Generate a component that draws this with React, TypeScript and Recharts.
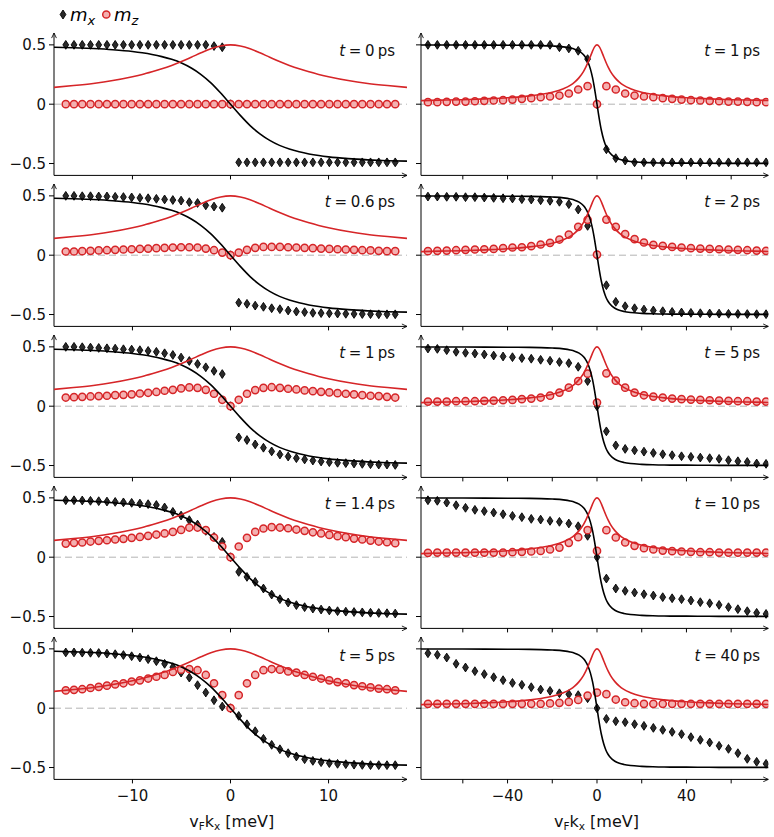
import React from "react";
import { ComposedChart, Line, Scatter, XAxis, YAxis, ReferenceLine } from "recharts";

const FONT = "'DejaVu Sans', sans-serif";
const RED = "#d62528";
const PINK = "#f4b0b0";

// k grid of the markers (meV)
const kLeft = [
  -16.8, -15.96, -15.12, -14.28, -13.44, -12.6, -11.76, -10.92, -10.08, -9.24, -8.4, -7.56, -6.72, -5.88,
  -5.04, -4.2, -3.36, -2.52, -1.68, -0.84, 0, 0.84, 1.68, 2.52, 3.36, 4.2, 5.04, 5.88, 6.72, 7.56, 8.4,
  9.24, 10.08, 10.92, 11.76, 12.6, 13.44, 14.28, 15.12, 15.96, 16.8,
];
const kRight = [
  -75.6, -71.4, -67.2, -63, -58.8, -54.6, -50.4, -46.2, -42, -37.8, -33.6, -29.4, -25.2, -21, -16.8, -12.6,
  -8.4, -4.2, 0, 4.2, 8.4, 12.6, 16.8, 21, 25.2, 29.4, 33.6, 37.8, 42, 46.2, 50.4, 54.6, 58.8, 63, 67.2,
  71.4, 75.6,
];

// equilibrium curves
const curveXLeft = [-18, -16, -14, -12, -10, -9, -8, -7, -6, -5, -4, -3, -2, -1, 0, 1, 2, 3, 4, 5, 6, 7, 8, 9, 10, 12, 14, 16, 18];
const curveMxLeft = [
  0.48, 0.476, 0.469, 0.459, 0.444, 0.433, 0.419, 0.401, 0.378, 0.347, 0.305, 0.25, 0.18, 0.094, 0, -0.094,
  -0.18, -0.25, -0.305, -0.347, -0.378, -0.401, -0.419, -0.433, -0.444, -0.459, -0.469, -0.476, -0.48,
];
const curveMzLeft = [
  0.142, 0.157, 0.175, 0.199, 0.231, 0.25, 0.273, 0.298, 0.327, 0.36, 0.396, 0.433, 0.467, 0.491, 0.5, 0.491,
  0.467, 0.433, 0.396, 0.36, 0.327, 0.298, 0.273, 0.25, 0.231, 0.199, 0.175, 0.157, 0.142,
];
const curveXRight = [
  -79, -70, -60, -50, -40, -30, -25, -20, -15, -12, -10, -8, -6, -5, -4, -3, -2, -1, 0, 1, 2, 3, 4, 5, 6, 8,
  10, 12, 15, 20, 25, 30, 40, 50, 60, 70, 79,
];
const curveMxRight = [
  0.499, 0.499, 0.499, 0.498, 0.497, 0.496, 0.494, 0.49, 0.483, 0.474, 0.464, 0.447, 0.416, 0.39, 0.354, 0.3,
  0.224, 0.121, 0, -0.121, -0.224, -0.3, -0.354, -0.39, -0.416, -0.447, -0.464, -0.474, -0.483, -0.49, -0.494,
  -0.496, -0.497, -0.498, -0.499, -0.499, -0.499,
];
const curveMzRight = [
  0.03, 0.034, 0.038, 0.045, 0.054, 0.07, 0.082, 0.1, 0.13, 0.158, 0.186, 0.224, 0.277, 0.312, 0.354, 0.4,
  0.447, 0.485, 0.5, 0.485, 0.447, 0.4, 0.354, 0.312, 0.277, 0.224, 0.186, 0.158, 0.13, 0.1, 0.082, 0.07,
  0.054, 0.045, 0.038, 0.034, 0.03,
];

// left column, t = 0, 0.6, 1, 1.4, 5 ps
const mxL0 = [
  0.5, 0.5, 0.5, 0.5, 0.5, 0.5, 0.5, 0.5, 0.5, 0.5, 0.5, 0.5, 0.5, 0.5, 0.5, 0.5, 0.5, 0.5, 0.49, 0.48, 0,
  -0.49, -0.49, -0.49, -0.49, -0.49, -0.49, -0.49, -0.49, -0.49, -0.49, -0.49, -0.49, -0.49, -0.49, -0.49,
  -0.49, -0.49, -0.49, -0.49, -0.49,
];
const mzL0 = [
  0, 0, 0, 0, 0, 0, 0, 0, 0, 0, 0, 0, 0, 0, 0, 0, 0, 0, 0, 0, 0, 0, 0, 0, 0, 0, 0, 0, 0, 0, 0, 0, 0, 0, 0, 0,
  0, 0, 0, 0, 0,
];
const mxL06 = [
  0.5, 0.5, 0.497, 0.497, 0.495, 0.495, 0.492, 0.49, 0.487, 0.483, 0.48, 0.475, 0.47, 0.465, 0.46, 0.447, 0.44,
  0.42, 0.41, 0.4, 0, -0.4, -0.41, -0.425, -0.435, -0.447, -0.455, -0.466, -0.475, -0.48, -0.486, -0.488, -0.49,
  -0.492, -0.494, -0.495, -0.496, -0.497, -0.498, -0.498, -0.498,
];
const mzL06 = [
  0.031, 0.031, 0.034, 0.037, 0.04, 0.042, 0.045, 0.048, 0.05, 0.053, 0.056, 0.059, 0.062, 0.065, 0.067, 0.067,
  0.065, 0.056, 0.042, 0.022, 0, 0.022, 0.045, 0.062, 0.07, 0.07, 0.07, 0.067, 0.065, 0.062, 0.059, 0.056, 0.053,
  0.05, 0.048, 0.045, 0.042, 0.04, 0.037, 0.034, 0.034,
];
const mxL1 = [
  0.5, 0.5, 0.497, 0.494, 0.491, 0.488, 0.485, 0.48, 0.477, 0.472, 0.466, 0.458, 0.446, 0.432, 0.41, 0.381,
  0.356, 0.328, 0.297, 0.271, 0, -0.263, -0.285, -0.322, -0.35, -0.381, -0.407, -0.424, -0.438, -0.449, -0.458,
  -0.466, -0.472, -0.477, -0.48, -0.483, -0.486, -0.489, -0.492, -0.492, -0.495,
];
const mzL1 = [
  0.073, 0.076, 0.079, 0.082, 0.085, 0.088, 0.093, 0.096, 0.1, 0.107, 0.113, 0.12, 0.13, 0.138, 0.15, 0.158,
  0.155, 0.138, 0.105, 0.054, 0, 0.054, 0.105, 0.136, 0.155, 0.16, 0.155, 0.147, 0.141, 0.133, 0.127, 0.121,
  0.116, 0.11, 0.105, 0.099, 0.093, 0.088, 0.085, 0.079, 0.073,
];
const mxL14 = [
  0.48, 0.48, 0.478, 0.475, 0.472, 0.469, 0.466, 0.462, 0.458, 0.452, 0.447, 0.44, 0.419, 0.382, 0.351, 0.312,
  0.275, 0.222, 0.171, 0.129, 0, -0.124, -0.166, -0.208, -0.264, -0.315, -0.354, -0.382, -0.404, -0.421, -0.433,
  -0.441, -0.449, -0.455, -0.459, -0.462, -0.465, -0.468, -0.47, -0.472, -0.475,
];
const mzL14 = [
  0.115, 0.121, 0.124, 0.132, 0.138, 0.143, 0.149, 0.155, 0.163, 0.171, 0.18, 0.191, 0.2, 0.213, 0.23, 0.25,
  0.25, 0.228, 0.166, 0.09, 0, 0.09, 0.163, 0.213, 0.242, 0.253, 0.25, 0.244, 0.233, 0.222, 0.21, 0.2, 0.188,
  0.177, 0.169, 0.157, 0.149, 0.14, 0.132, 0.126, 0.118,
];
const mxL5 = [
  0.47, 0.47, 0.468, 0.467, 0.465, 0.46, 0.455, 0.448, 0.438, 0.427, 0.413, 0.396, 0.374, 0.346, 0.3, 0.258,
  0.194, 0.132, 0.067, 0.014, 0, -0.065, -0.135, -0.194, -0.258, -0.309, -0.346, -0.379, -0.407, -0.43, -0.444,
  -0.455, -0.463, -0.469, -0.472, -0.476, -0.478, -0.48, -0.48, -0.48, -0.48,
];
const mzL5 = [
  0.15, 0.155, 0.16, 0.17, 0.18, 0.19, 0.2, 0.21, 0.225, 0.235, 0.25, 0.265, 0.28, 0.305, 0.325, 0.33, 0.32,
  0.28, 0.21, 0.11, 0, 0.11, 0.21, 0.28, 0.32, 0.33, 0.325, 0.31, 0.3, 0.28, 0.265, 0.25, 0.235, 0.22, 0.21,
  0.195, 0.185, 0.175, 0.165, 0.16, 0.15,
];

// right column, t = 1, 2, 5, 10, 40 ps
const mxR1 = [
  0.5, 0.5, 0.5, 0.5, 0.5, 0.5, 0.5, 0.5, 0.5, 0.5, 0.5, 0.5, 0.5, 0.5, 0.48, 0.47, 0.45, 0.38, 0, -0.38, -0.455,
  -0.475, -0.49, -0.49, -0.49, -0.49, -0.49, -0.49, -0.49, -0.49, -0.49, -0.49, -0.49, -0.49, -0.49, -0.49, -0.49,
];
const mzR1 = [
  0.017, 0.017, 0.02, 0.022, 0.022, 0.025, 0.028, 0.031, 0.034, 0.039, 0.045, 0.051, 0.059, 0.065, 0.073, 0.09,
  0.124, 0.152, 0, 0.152, 0.124, 0.09, 0.073, 0.065, 0.059, 0.051, 0.045, 0.039, 0.034, 0.031, 0.028, 0.025,
  0.022, 0.022, 0.02, 0.017, 0.017,
];
const mxR2 = [
  0.494, 0.494, 0.492, 0.492, 0.489, 0.489, 0.486, 0.483, 0.48, 0.478, 0.472, 0.469, 0.463, 0.458, 0.45, 0.43,
  0.385, 0.247, 0, -0.253, -0.393, -0.43, -0.447, -0.458, -0.466, -0.472, -0.478, -0.483, -0.486, -0.489, -0.491,
  -0.492, -0.494, -0.495, -0.496, -0.497, -0.497,
];
const mzR2 = [
  0.034, 0.037, 0.039, 0.042, 0.045, 0.048, 0.05, 0.053, 0.059, 0.065, 0.067, 0.076, 0.09, 0.104, 0.132, 0.174,
  0.239, 0.298, 0.005, 0.3, 0.239, 0.177, 0.135, 0.107, 0.087, 0.079, 0.07, 0.065, 0.059, 0.056, 0.053, 0.05,
  0.048, 0.045, 0.042, 0.039, 0.037,
];
const mxR5 = [
  0.486, 0.483, 0.472, 0.458, 0.45, 0.444, 0.436, 0.427, 0.419, 0.413, 0.405, 0.4, 0.391, 0.383, 0.372, 0.363,
  0.332, 0.212, 0, -0.212, -0.33, -0.36, -0.372, -0.383, -0.394, -0.405, -0.413, -0.422, -0.427, -0.433, -0.438,
  -0.444, -0.455, -0.464, -0.47, -0.483, -0.486,
];
const mzR5 = [
  0.039, 0.039, 0.039, 0.042, 0.042, 0.042, 0.045, 0.047, 0.05, 0.053, 0.059, 0.064, 0.073, 0.089, 0.115, 0.156,
  0.212, 0.274, 0.031, 0.277, 0.215, 0.156, 0.115, 0.092, 0.081, 0.073, 0.064, 0.059, 0.056, 0.053, 0.05, 0.047,
  0.045, 0.042, 0.042, 0.039, 0.039,
];
const mxR10 = [
  0.48, 0.475, 0.46, 0.438, 0.416, 0.399, 0.388, 0.376, 0.362, 0.348, 0.337, 0.323, 0.317, 0.306, 0.298, 0.284,
  0.261, 0.18, 0, -0.18, -0.264, -0.284, -0.298, -0.312, -0.323, -0.337, -0.346, -0.354, -0.365, -0.379, -0.388,
  -0.402, -0.421, -0.438, -0.455, -0.469, -0.478,
];
const mzR10 = [
  0.037, 0.039, 0.039, 0.039, 0.039, 0.039, 0.039, 0.039, 0.039, 0.042, 0.045, 0.048, 0.053, 0.065, 0.081, 0.121,
  0.169, 0.228, 0.053, 0.228, 0.166, 0.124, 0.096, 0.076, 0.065, 0.056, 0.051, 0.048, 0.045, 0.042, 0.042, 0.039,
  0.039, 0.039, 0.039, 0.039, 0.039,
];
const mxR40 = [
  0.463, 0.45, 0.427, 0.374, 0.343, 0.312, 0.287, 0.261, 0.236, 0.213, 0.197, 0.177, 0.157, 0.146, 0.126, 0.118,
  0.11, 0.084, 0, -0.09, -0.11, -0.118, -0.135, -0.149, -0.166, -0.183, -0.2, -0.219, -0.244, -0.267, -0.289,
  -0.317, -0.343, -0.379, -0.427, -0.452, -0.469,
];
const mzR40 = [
  0.037, 0.037, 0.037, 0.037, 0.037, 0.037, 0.037, 0.037, 0.037, 0.037, 0.037, 0.037, 0.037, 0.04, 0.045, 0.053,
  0.07, 0.107, 0.132, 0.118, 0.073, 0.05, 0.042, 0.037, 0.037, 0.037, 0.037, 0.037, 0.037, 0.037, 0.037, 0.037,
  0.037, 0.037, 0.037, 0.037, 0.037,
];

const timesLeft = ["0", "0.6", "1", "1.4", "5"];
const timesRight = ["1", "2", "5", "10", "40"];
const mxLeft = [mxL0, mxL06, mxL1, mxL14, mxL5];
const mzLeft = [mzL0, mzL06, mzL1, mzL14, mzL5];
const mxRight = [mxR1, mxR2, mxR5, mxR10, mxR40];
const mzRight = [mzR1, mzR2, mzR5, mzR10, mzR40];

const xTicksLeft = [-10, 0, 10];
const xTicksRight = [-60, -40, -20, 0, 20, 40, 60];
const xLabelsRight = [-40, 0, 40];
const yTicks = [-0.5, 0, 0.5];

// layout (page px)
const ROW0_TOP = 32.5;
const ROW_STEP = 151.15;
const PLOT_H = 142.4;
const M_TOP = 10;
const X_AX_H = 30;

const toPts = (xs: number[], ys: number[]) => xs.map((x, i) => ({ x, y: ys[i] }));
const fmtNum = (v: number) => (v < 0 ? `\u2212${Math.abs(v)}` : `${v}`);

const Diamond = (p: any) => {
  const { cx, cy } = p;
  if (cx == null || cy == null) return null;
  return (
    <path
      d={`M${cx},${cy - 4.4}L${cx + 2.9},${cy}L${cx},${cy + 4.4}L${cx - 2.9},${cy}Z`}
      fill="#2a2a2a"
      stroke="#000"
      strokeWidth={0.9}
    />
  );
};

const Ring = (p: any) => {
  const { cx, cy } = p;
  if (cx == null || cy == null) return null;
  return <circle cx={cx} cy={cy} r={3.6} fill={PINK} stroke={RED} strokeWidth={1.5} />;
};

function Panel({ col, row }: { col: "L" | "R"; row: number }) {
  const left = col === "L";
  const yw = left ? 54 : 40;
  const plotLeft = left ? 54 : 420.7;
  const plotW = left ? 353 : 347.3;
  const mRight = left ? 10 : 5;
  const top = ROW0_TOP + ROW_STEP * row - M_TOP;
  const bottomRow = row === 4;
  const ks = left ? kLeft : kRight;
  const diam = toPts(ks, left ? mxLeft[row] : mxRight[row]);
  const rings = toPts(ks, left ? mzLeft[row] : mzRight[row]);
  const cMx = left ? toPts(curveXLeft, curveMxLeft) : toPts(curveXRight, curveMxRight);
  const cMz = left ? toPts(curveXLeft, curveMzLeft) : toPts(curveXRight, curveMzRight);
  const tickStyle = { fontSize: 15, fill: "#111", fontFamily: FONT };

  return (
    <div style={{ position: "absolute", left: plotLeft - yw, top, width: yw + plotW + mRight, height: M_TOP + PLOT_H + X_AX_H }}>
      <ComposedChart
        width={yw + plotW + mRight}
        height={M_TOP + PLOT_H + X_AX_H}
        margin={{ top: M_TOP, right: mRight, bottom: 0, left: 0 }}
      >
        <XAxis
          type="number"
          dataKey="x"
          domain={left ? [-18, 18] : [-78.7, 76.6]}
          allowDataOverflow
          ticks={left ? xTicksLeft : xTicksRight}
          interval={0}
          height={X_AX_H}
          tickSize={4}
          tickMargin={7}
          tick={tickStyle}
          tickLine={{ stroke: "#000" }}
          axisLine={{ stroke: "#000", strokeWidth: 1, markerEnd: "url(#axArrow)" }}
          tickFormatter={(v: number) =>
            !bottomRow ? "" : left || xLabelsRight.includes(v) ? fmtNum(v) : ""
          }
        />
        <YAxis
          type="number"
          dataKey="y"
          domain={[-0.6, 0.6]}
          allowDataOverflow
          ticks={yTicks}
          interval={0}
          width={yw}
          tickSize={5}
          tickMargin={3}
          tick={tickStyle}
          tickLine={{ stroke: "#000" }}
          axisLine={{ stroke: "#000", strokeWidth: 1, markerStart: "url(#axArrow)" }}
          tickFormatter={(v: number) => (left ? fmtNum(v) : "")}
        />
        <ReferenceLine y={0} stroke="#b4b4b4" strokeWidth={1} strokeDasharray="7 4" zIndex={50} />
        <Scatter data={diam} shape={Diamond} isAnimationActive={false} zIndex={600} />
        <Scatter data={rings} shape={Ring} isAnimationActive={false} zIndex={610} />
        <Line
          data={cMx}
          dataKey="y"
          type="monotone"
          stroke="#000"
          strokeWidth={1.6}
          dot={false}
          activeDot={false}
          isAnimationActive={false}
          zIndex={700}
        />
        <Line
          data={cMz}
          dataKey="y"
          type="monotone"
          stroke={RED}
          strokeWidth={1.6}
          dot={false}
          activeDot={false}
          isAnimationActive={false}
          zIndex={700}
        />
      </ComposedChart>
    </div>
  );
}

export default function App() {
  const rows = [0, 1, 2, 3, 4];
  return (
    <div style={{ position: "absolute", left: 0, top: 0, width: 774, height: 837, background: "#fff", fontFamily: FONT, overflow: "hidden" }}>
      <svg width={0} height={0} style={{ position: "absolute" }}>
        <defs>
          <marker
            id="axArrow"
            viewBox="0 0 10 10"
            refX={9.5}
            refY={5}
            markerWidth={6}
            markerHeight={6}
            markerUnits="userSpaceOnUse"
            orient="auto-start-reverse"
          >
            <path d="M1,1 L9.5,5 L1,9" fill="none" stroke="#000" strokeWidth={1.4} />
          </marker>
        </defs>
      </svg>
      {rows.map((r) => (
        <Panel key={`L${r}`} col="L" row={r} />
      ))}
      {rows.map((r) => (
        <Panel key={`R${r}`} col="R" row={r} />
      ))}
      <svg width={774} height={837} style={{ position: "absolute", left: 0, top: 0, pointerEvents: "none" }}>
        {/* legend */}
        <path d="M63,10 L65.9,14.5 L63,19 L60.1,14.5 Z" fill="#2a2a2a" stroke="#000" strokeWidth={0.9} />
        <text x={70} y={20.5} fontFamily={FONT} fontSize={18} fontStyle="italic" fill="#000">
          m<tspan fontSize={13} dy={4}>x</tspan>
        </text>
        <circle cx={106.3} cy={14.5} r={3.6} fill={PINK} stroke={RED} strokeWidth={1.5} />
        <text x={114} y={20.5} fontFamily={FONT} fontSize={18} fontStyle="italic" fill="#000">
          m<tspan fontSize={13} dy={4}>z</tspan>
        </text>
        {/* panel time labels */}
        {rows.map((r) => (
          <text key={`tl${r}`} x={395} y={ROW0_TOP + ROW_STEP * r + 23.5} textAnchor="end" fontFamily={FONT} fontSize={15} fill="#111">
            <tspan fontStyle="italic">t</tspan>
            {`\u2005=\u2005${timesLeft[r]}\u2009ps`}
          </text>
        ))}
        {rows.map((r) => (
          <text key={`tr${r}`} x={760} y={ROW0_TOP + ROW_STEP * r + 23.5} textAnchor="end" fontFamily={FONT} fontSize={15} fill="#111">
            <tspan fontStyle="italic">t</tspan>
            {`\u2005=\u2005${timesRight[r]}\u2009ps`}
          </text>
        ))}
        {/* x-axis titles */}
        {[231.7, 596.5].map((cx) => (
          <text key={`xl${cx}`} x={cx} y={827} textAnchor="middle" fontFamily={FONT} fontSize={16} fill="#111">
            v<tspan fontSize={10.5} dy={3}>F</tspan>
            <tspan dy={-3}>k</tspan>
            <tspan fontSize={10.5} dy={3}>x</tspan>
            <tspan dy={-3}> [meV]</tspan>
          </text>
        ))}
      </svg>
    </div>
  );
}
